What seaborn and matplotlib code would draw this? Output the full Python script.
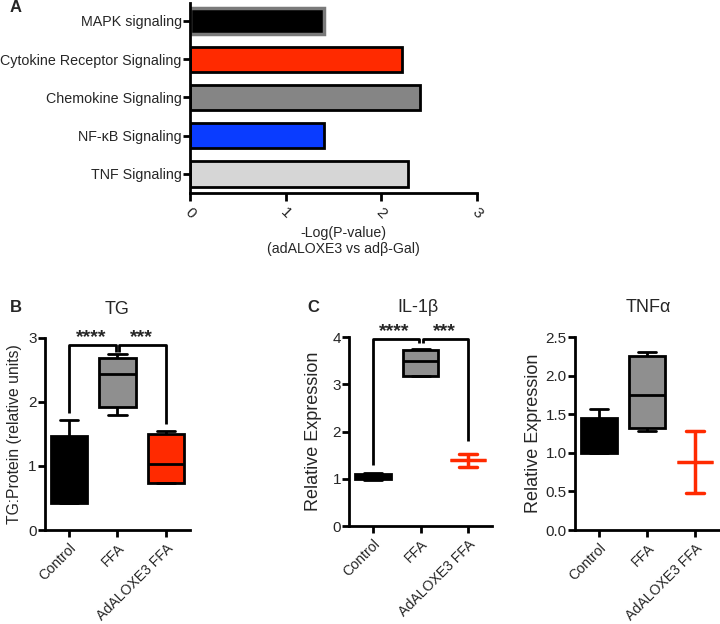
import numpy as np
import pandas as pd
import seaborn as sns
import matplotlib.pyplot as plt

# Panel A data
pathways = ['MAPK signaling', 'Cytokine Receptor Signaling', 'Chemokine Signaling',
            'NF-κB Signaling', 'TNF Signaling']
neg_log_p = [1.40, 2.22, 2.40, 1.40, 2.28]
bar_colors = ['#000000', '#ff2a00', '#858585', '#0a3cff', '#d6d6d6']

# Panels B/C: each group given as min, q1, median, q3, max
groups = ['Control', 'FFA', 'AdALOXE3 FFA']
box_colors = ['#000000', '#8f8f8f', '#ff2a00']

tg_control = [0.42, 0.42, 0.90, 1.47, 1.71]
tg_ffa = [1.80, 1.92, 2.43, 2.68, 2.74]
tg_adaloxe3 = [0.74, 0.74, 1.03, 1.49, 1.54]

il1b_control = [0.98, 1.00, 1.05, 1.10, 1.13]
il1b_ffa = [3.17, 3.18, 3.50, 3.73, 3.75]
il1b_adaloxe3 = [1.26, 1.40, 1.40, 1.40, 1.53]

tnfa_control = [1.00, 1.00, 1.20, 1.45, 1.57]
tnfa_ffa = [1.28, 1.32, 1.75, 2.26, 2.31]
tnfa_adaloxe3 = [0.48, 0.88, 0.88, 0.88, 1.29]

# significance brackets: top, left leg end, FFA leg end, right leg end
tg_bracket = [2.88, 1.82, 2.78, 1.66]
il1b_bracket = [3.96, 1.29, 3.87, 1.81]

sns.set_style('white')
plt.rcParams['font.family'] = ['Liberation Sans', 'DejaVu Sans']

fig = plt.figure(figsize=(7.2, 6.24), dpi=100)
W, H = 720, 624


def add_ax(x0, x1, ybot, ytop):
    return fig.add_axes([x0 / W, 1 - ybot / H, (x1 - x0) / W, (ybot - ytop) / H])


def style_ax(ax):
    sns.despine(ax=ax)
    for s in ['left', 'bottom']:
        ax.spines[s].set_linewidth(2)
        ax.spines[s].set_color('black')
    ax.tick_params(direction='out', length=5, width=2, color='black',
                   left=True, bottom=True, labelsize=11, pad=1)


# ---- Panel A ----
axA = add_ax(190, 477, 193, 3)
dfA = pd.DataFrame({'pathway': pathways, 'value': neg_log_p})
sns.barplot(data=dfA, x='value', y='pathway', hue='pathway', palette=bar_colors,
            saturation=1, orient='h', width=0.66, edgecolor='black', linewidth=2,
            legend=False, ax=axA)
axA.patches[0].set_edgecolor('#7a7a7a')
axA.patches[0].set_linewidth(2.5)
axA.set_xlim(0, 3)
axA.set_ylim(4.5, -0.47)
axA.set_xticks([0, 1, 2, 3])
style_ax(axA)
axA.tick_params(axis='y', labelsize=10.3)
axA.tick_params(axis='x', length=6, pad=3)
for lab in axA.get_xticklabels():
    lab.set_rotation(-45)
    lab.set_ha('center')
axA.set_xlabel('')
axA.set_ylabel('')
fig.text(343 / W, 1 - 241 / H, '-Log(P-value)\n(adALOXE3 vs adβ-Gal)',
         ha='center', va='center', fontsize=10.2, linespacing=1.1)
fig.text(10 / W, 1 - 8 / H, 'A', fontsize=12, fontweight='bold', va='center')


def box_panel(ax, values, ylim, ticks, fmt, ylabel, ylsize, labx, red_idx=None):
    df = pd.DataFrame({'group': np.repeat(groups, 5), 'value': np.concatenate(values)})
    sns.boxplot(data=df, x='group', y='value', hue='group', order=groups,
                hue_order=groups, palette=box_colors, saturation=1, whis=(0, 100),
                width=0.75, linecolor='black', linewidth=2, legend=False, ax=ax)
    if red_idx is not None:
        c = ax.containers[red_idx]
        for art in list(c.whiskers) + list(c.caps) + list(c.medians):
            art.set_color(box_colors[red_idx])
            art.set_linewidth(2.5)
        for b in c.boxes:
            b.set_edgecolor(box_colors[red_idx])
    ax.set_xlim(-0.5, 2.5)
    ax.set_ylim(*ylim)
    ax.set_yticks(ticks)
    ax.set_yticklabels([fmt.format(t) for t in ticks])
    style_ax(ax)
    ax.set_xlabel('')
    ax.set_xticks(range(3))
    ax.set_xticklabels(groups, rotation=45, ha='right', rotation_mode='anchor',
                       fontsize=10.2)
    ax.tick_params(axis='x', pad=3)
    ax.set_ylabel(ylabel, fontsize=ylsize, va='center')
    ax.yaxis.set_label_coords(labx, 0.5)


def bracket(ax, spec, stars):
    top, left_end, mid_end, right_end = spec
    kw = dict(color='black', lw=2, clip_on=False, solid_capstyle='butt')
    ax.plot([0, 0, 0.96, 0.96], [left_end, top, top, mid_end], **kw)
    ax.plot([1.04, 1.04, 2, 2], [mid_end, top, top, right_end], **kw)
    for xc, s in zip([0.45, 1.5], stars):
        ax.annotate(s, (xc, top), xytext=(0, 2.5), textcoords='offset points',
                    ha='center', va='baseline', fontsize=14, fontweight='bold',
                    annotation_clip=False)


# ---- Panel B ----
axB = add_ax(45, 190, 530, 337.7)
box_panel(axB, [tg_control, tg_ffa, tg_adaloxe3], (0, 3), [0, 1, 2, 3], '{:g}',
          'TG:Protein (relative units)', 11.3, -0.21)
bracket(axB, tg_bracket, ['****', '***'])
fig.text(117 / W, 1 - 310 / H, 'TG', ha='center', va='center', fontsize=13)
fig.text(10 / W, 1 - 307 / H, 'B', fontsize=12, fontweight='bold', va='center')

# ---- Panel C: IL-1β ----
axC1 = add_ax(349.3, 492, 526, 337.3)
box_panel(axC1, [il1b_control, il1b_ffa, il1b_adaloxe3], (0, 4), [0, 1, 2, 3, 4],
          '{:g}', 'Relative Expression', 13, -0.25, red_idx=2)
bracket(axC1, il1b_bracket, ['****', '***'])
fig.text(418 / W, 1 - 307 / H, 'IL-1β', ha='center', va='center', fontsize=13)
fig.text(307 / W, 1 - 307 / H, 'C', fontsize=12, fontweight='bold', va='center')

# ---- Panel C: TNFα ----
axC2 = add_ax(575, 719, 530, 337.3)
box_panel(axC2, [tnfa_control, tnfa_ffa, tnfa_adaloxe3], (0, 2.5),
          [0, 0.5, 1.0, 1.5, 2.0, 2.5], '{:.1f}', 'Relative Expression', 13, -0.285,
          red_idx=2)
fig.text(648 / W, 1 - 307 / H, 'TNFα', ha='center', va='center', fontsize=13)

fig.savefig('out.png', dpi=100)
